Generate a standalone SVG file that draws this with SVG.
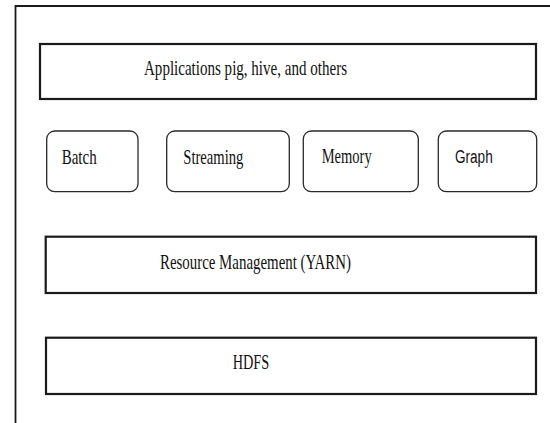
<svg xmlns="http://www.w3.org/2000/svg" width="550" height="423" viewBox="0 0 550 423">
<style>
.bar{fill:#fff;stroke:#1a1a1a;stroke-width:2.2}
.box{fill:#fff;stroke:#2a2a2a;stroke-width:1.3}
.t{font-family:"Liberation Serif","DejaVu Serif","Times New Roman",serif;font-size:21px;fill:#111}
.s{font-family:"Liberation Sans",Arial,sans-serif;font-size:18px;fill:#111}
</style>
<rect width="550" height="423" fill="#fff"/>
<g id="frame">
<path d="M15.5 423 V6 H550" fill="none" stroke="#1a1a1a" stroke-width="1.8"/>
</g>
<g id="applications">
<rect class="bar" x="40" y="44" width="496" height="55"/>
<text class="t" x="144" y="75" textLength="203" lengthAdjust="spacingAndGlyphs">Applications pig, hive, and others</text>
</g>
<g id="batch">
<rect class="box" x="46.7" y="131" width="91.3" height="60.7" rx="8"/>
<text class="t" x="61.7" y="164" textLength="35" lengthAdjust="spacingAndGlyphs">Batch</text>
</g>
<g id="streaming">
<rect class="box" x="166.7" y="131" width="122.6" height="60.7" rx="8"/>
<text class="t" x="183.3" y="164" textLength="60" lengthAdjust="spacingAndGlyphs">Streaming</text>
</g>
<g id="memory">
<rect class="box" x="303.3" y="131" width="115" height="60.7" rx="8"/>
<text class="t" x="321.7" y="163" textLength="50" lengthAdjust="spacingAndGlyphs">Memory</text>
</g>
<g id="graph">
<rect class="box" x="438.3" y="131" width="98.4" height="60.7" rx="8"/>
<text class="s" x="455" y="163" textLength="37.7" lengthAdjust="spacingAndGlyphs">Graph</text>
</g>
<g id="yarn">
<rect class="bar" x="45.7" y="236.7" width="490.3" height="56.3"/>
<text class="t" x="160" y="268.7" textLength="191" lengthAdjust="spacingAndGlyphs">Resource Management (YARN)</text>
</g>
<g id="hdfs">
<rect class="bar" x="46" y="337.7" width="490" height="56.3"/>
<text class="t" x="232.7" y="369" textLength="36.6" lengthAdjust="spacingAndGlyphs">HDFS</text>
</g>
<g id="connectors"></g>
</svg>
